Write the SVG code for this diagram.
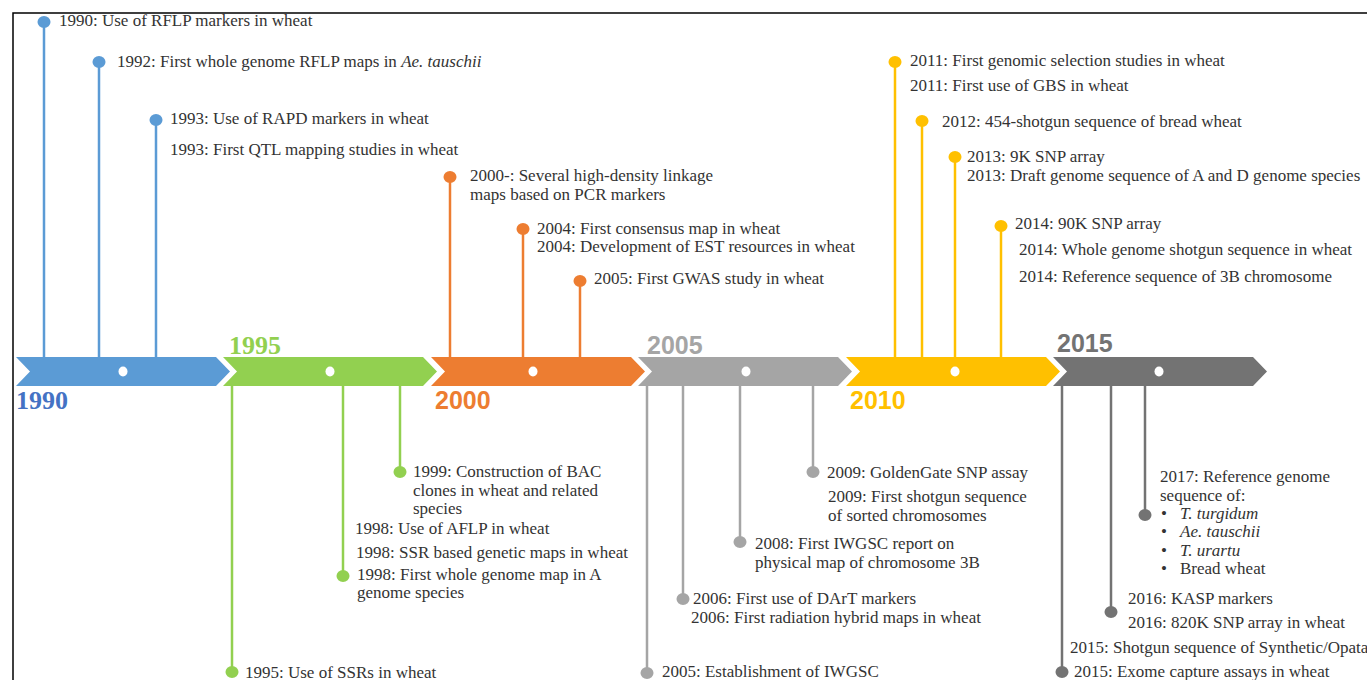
<svg xmlns="http://www.w3.org/2000/svg" width="1367" height="680" viewBox="0 0 1367 680">
<style>
.t{font-family:"Liberation Serif","Times New Roman",serif;font-size:17px;fill:#333}
.i{font-style:italic}
.ys{font-family:"Liberation Serif","Times New Roman",serif;font-size:26px;font-weight:bold}
.ya{font-family:"Liberation Sans",Arial,sans-serif;font-size:25px;font-weight:bold}
.s{stroke-width:2.5;fill:none}
.b{stroke:#5B9BD5}.bf{fill:#5B9BD5}
.g{stroke:#92D050}.gf{fill:#92D050}
.o{stroke:#ED7D31}.of{fill:#ED7D31}
.l{stroke:#A5A5A5}.lf{fill:#A5A5A5}
.y{stroke:#FFC000}.yf{fill:#FFC000}
.d{stroke:#737373}.df{fill:#737373}
.wd{fill:#fff}
</style>
<rect width="1367" height="680" fill="#fff"/>
<path d="M13,680 L13,13 L1367,13" fill="none" stroke="#000" stroke-width="1.5"/>

<g id="connectors">
<line class="s b" x1="44" y1="22" x2="44" y2="357"/>
<line class="s b" x1="99" y1="62" x2="99" y2="357"/>
<line class="s b" x1="156" y1="120" x2="156" y2="357"/>
<line class="s g" x1="232" y1="386" x2="232" y2="672"/>
<line class="s g" x1="343" y1="386" x2="343" y2="576"/>
<line class="s g" x1="400" y1="386" x2="400" y2="472"/>
<line class="s o" x1="450" y1="177" x2="450" y2="357"/>
<line class="s o" x1="523" y1="229" x2="523" y2="357"/>
<line class="s o" x1="580" y1="281" x2="580" y2="357"/>
<line class="s l" x1="647" y1="386" x2="647" y2="673"/>
<line class="s l" x1="683" y1="386" x2="683" y2="599"/>
<line class="s l" x1="740" y1="386" x2="740" y2="542"/>
<line class="s l" x1="813" y1="386" x2="813" y2="472"/>
<line class="s y" x1="895" y1="62" x2="895" y2="357"/>
<line class="s y" x1="922" y1="121" x2="922" y2="357"/>
<line class="s y" x1="955" y1="157" x2="955" y2="357"/>
<line class="s y" x1="1001" y1="226" x2="1001" y2="357"/>
<line class="s d" x1="1062" y1="386" x2="1062" y2="672"/>
<line class="s d" x1="1111" y1="386" x2="1111" y2="612"/>
<line class="s d" x1="1145" y1="386" x2="1145" y2="515"/>
</g>

<g id="timeline">
<g id="seg1990"><path class="bf" d="M16,357 L216,357 L230,371.5 L216,386 L16,386 L30,371.5 Z"/><ellipse class="wd" cx="123" cy="371.5" rx="4.5" ry="5"/><text class="ys" x="16" y="409" fill="#4472C4">1990</text></g>
<g id="seg1995"><path class="gf" d="M223,357 L423,357 L437,371.5 L423,386 L223,386 L237,371.5 Z"/><ellipse class="wd" cx="330" cy="371.5" rx="4.5" ry="5"/><text class="ys" x="229" y="354" fill="#92D050">1995</text></g>
<g id="seg2000"><path class="of" d="M431,357 L631,357 L645,371.5 L631,386 L431,386 L445,371.5 Z"/><ellipse class="wd" cx="533" cy="371.5" rx="4.5" ry="5"/><text class="ya" x="435" y="409" fill="#ED7D31">2000</text></g>
<g id="seg2005"><path class="lf" d="M638,357 L838,357 L852,371.5 L838,386 L638,386 L652,371.5 Z"/><ellipse class="wd" cx="746" cy="371.5" rx="4.5" ry="5"/><text class="ya" x="647" y="354" fill="#A5A5A5">2005</text></g>
<g id="seg2010"><path class="yf" d="M846,357 L1046,357 L1060,371.5 L1046,386 L846,386 L860,371.5 Z"/><ellipse class="wd" cx="955" cy="371.5" rx="4.5" ry="5"/><text class="ya" x="850" y="409" fill="#FFC000">2010</text></g>
<g id="seg2015"><path class="df" d="M1053,357 L1253,357 L1267,371.5 L1253,386 L1053,386 L1067,371.5 Z"/><ellipse class="wd" cx="1159" cy="371.5" rx="4.5" ry="5"/><text class="ya" x="1057" y="352" fill="#737373">2015</text></g>
</g>

<g id="e1990"><ellipse class="bf" cx="44" cy="22" rx="6.5" ry="6"/><text class="t" x="59" y="26">1990: Use of RFLP markers in wheat</text></g>
<g id="e1992"><ellipse class="bf" cx="99" cy="62" rx="6.5" ry="6"/><text class="t" x="117" y="67">1992: First whole genome RFLP maps in <tspan class="i">Ae. tauschii</tspan></text></g>
<g id="e1993"><ellipse class="bf" cx="156" cy="120" rx="6.5" ry="6"/><text class="t" x="170" y="124">1993: Use of RAPD markers in wheat</text><text class="t" x="170" y="155">1993: First QTL mapping studies in wheat</text></g>

<g id="e1995"><ellipse class="gf" cx="232" cy="672" rx="6.5" ry="6"/><text class="t" x="245" y="678">1995: Use of SSRs in wheat</text></g>
<g id="e1998"><ellipse class="gf" cx="343" cy="576" rx="6.5" ry="6"/><text class="t" x="355" y="534">1998: Use of AFLP in wheat</text><text class="t" x="356" y="558">1998: SSR based genetic maps in wheat</text><text class="t" x="357" y="580">1998: First whole genome map in A<tspan x="357" dy="18">genome species</tspan></text></g>
<g id="e1999"><ellipse class="gf" cx="400" cy="472" rx="6.5" ry="6"/><text class="t" x="413" y="477">1999: Construction of BAC<tspan x="413" dy="18.5">clones in wheat and related</tspan><tspan x="413" dy="18.5">species</tspan></text></g>

<g id="e2000"><ellipse class="of" cx="450" cy="177" rx="6.5" ry="6"/><text class="t" x="470" y="181">2000-: Several high-density linkage<tspan x="470" dy="19">maps based on PCR markers</tspan></text></g>
<g id="e2004"><ellipse class="of" cx="523" cy="229" rx="6.5" ry="6"/><text class="t" x="537" y="234">2004: First consensus map in wheat<tspan x="537" dy="17.5">2004: Development of EST resources in wheat</tspan></text></g>
<g id="e2005g"><ellipse class="of" cx="580" cy="281" rx="6.5" ry="6"/><text class="t" x="594" y="284">2005: First GWAS study in wheat</text></g>

<g id="e2005"><ellipse class="lf" cx="647" cy="673" rx="6.5" ry="6"/><text class="t" x="662" y="677">2005: Establishment of IWGSC</text></g>
<g id="e2006"><ellipse class="lf" cx="683" cy="599" rx="6.5" ry="6"/><text class="t" x="693" y="604">2006: First use of DArT markers</text><text class="t" x="691" y="623">2006: First radiation hybrid maps in wheat</text></g>
<g id="e2008"><ellipse class="lf" cx="740" cy="542" rx="6.5" ry="6"/><text class="t" x="755" y="549">2008: First IWGSC report on<tspan x="755" dy="19">physical map of chromosome 3B</tspan></text></g>
<g id="e2009"><ellipse class="lf" cx="813" cy="472" rx="6.5" ry="6"/><text class="t" x="827" y="478">2009: GoldenGate SNP assay</text><text class="t" x="828" y="502">2009: First shotgun sequence<tspan x="828" dy="19">of sorted chromosomes</tspan></text></g>

<g id="e2011"><ellipse class="yf" cx="895" cy="62" rx="6.5" ry="6"/><text class="t" x="910" y="66">2011: First genomic selection studies in wheat</text><text class="t" x="910" y="91">2011: First use of GBS in wheat</text></g>
<g id="e2012"><ellipse class="yf" cx="922" cy="121" rx="6.5" ry="6"/><text class="t" x="942" y="127">2012: 454-shotgun sequence of bread wheat</text></g>
<g id="e2013"><ellipse class="yf" cx="955" cy="157" rx="6.5" ry="6"/><text class="t" x="967" y="162">2013: 9K SNP array<tspan x="967" dy="19">2013: Draft genome sequence of A and D genome species</tspan></text></g>
<g id="e2014"><ellipse class="yf" cx="1001" cy="226" rx="6.5" ry="6"/><text class="t" x="1015" y="229">2014: 90K SNP array</text><text class="t" x="1019" y="255">2014: Whole genome shotgun sequence in wheat</text><text class="t" x="1019" y="282">2014: Reference sequence of 3B chromosome</text></g>

<g id="e2015"><ellipse class="df" cx="1062" cy="672" rx="6.5" ry="6"/><text class="t" x="1070" y="653">2015: Shotgun sequence of Synthetic/Opata</text><text class="t" x="1074" y="677">2015: Exome capture assays in wheat</text></g>
<g id="e2016"><ellipse class="df" cx="1111" cy="612" rx="6.5" ry="6"/><text class="t" x="1128" y="604">2016: KASP markers</text><text class="t" x="1128" y="628">2016: 820K SNP array in wheat</text></g>
<g id="e2017"><ellipse class="df" cx="1145" cy="515" rx="6.5" ry="6"/><text class="t" x="1160" y="482">2017: Reference genome<tspan x="1160" dy="19">sequence of:</tspan></text>
<text class="t" x="1161" y="519">•</text><text class="t i" x="1180" y="519">T. turgidum</text>
<text class="t" x="1161" y="537">•</text><text class="t i" x="1180" y="537">Ae. tauschii</text>
<text class="t" x="1161" y="556">•</text><text class="t i" x="1180" y="556">T. urartu</text>
<text class="t" x="1161" y="574">•</text><text class="t" x="1180" y="574">Bread wheat</text></g>
</svg>
